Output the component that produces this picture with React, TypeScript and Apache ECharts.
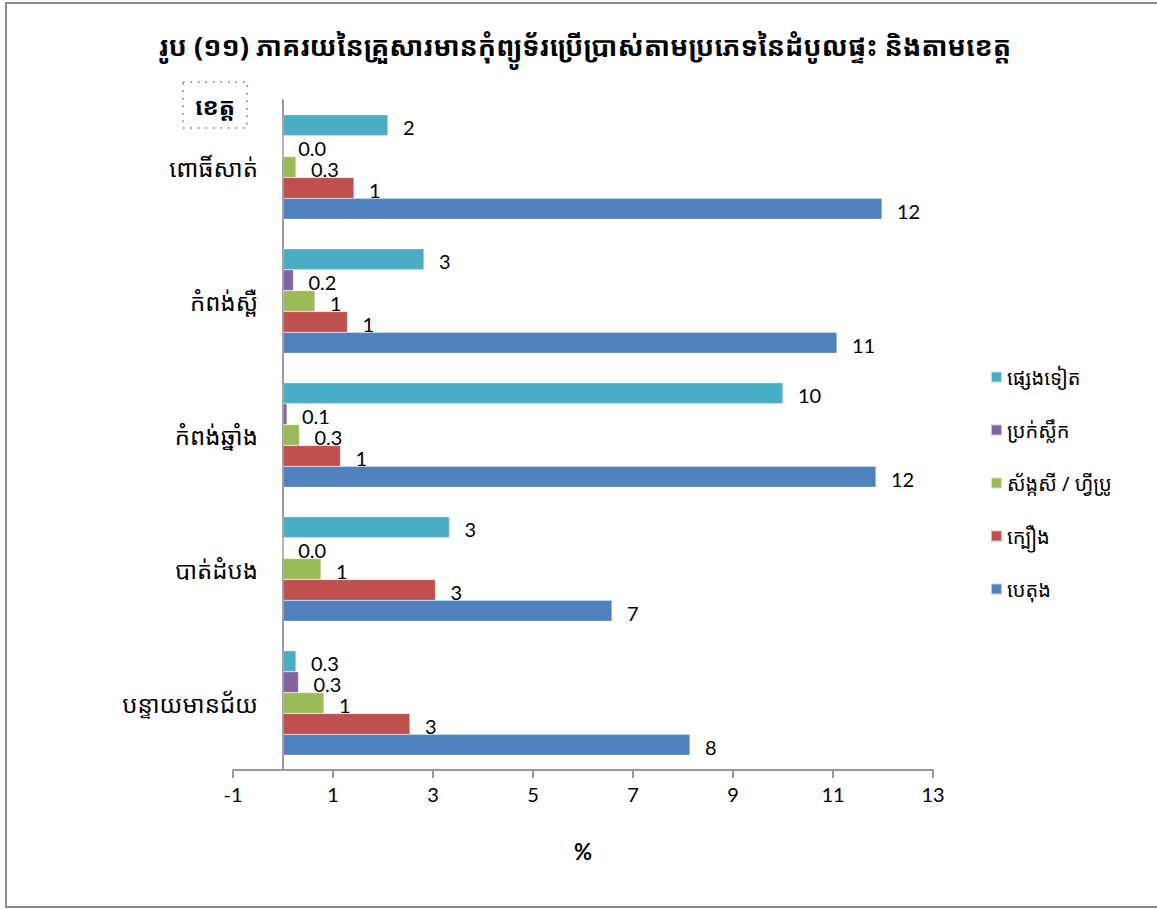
import React, { useEffect, useRef } from "react";
import * as echarts from "echarts";

const categories = ["បន្ទាយមានជ័យ", "បាត់ដំបង", "កំពង់ឆ្នាំង", "កំពង់ស្ពឺ", "ពោធិ៍សាត់"];
const seriesNames = ["ផ្សេងទៀត", "ប្រក់ស្លឹក", "ស័ង្កសី / ហ្វីប្រូ", "ក្បឿង", "បេតុង"];
const otherVals = [0.26, 3.33, 10.0, 2.82, 2.1];
const thatchVals = [0.31, 0.0, 0.08, 0.21, 0.0];
const zincVals = [0.82, 0.76, 0.33, 0.64, 0.26];
const tileVals = [2.54, 3.05, 1.15, 1.29, 1.42];
const concreteVals = [8.14, 6.58, 11.86, 11.08, 11.98];
const colors = ["#4BACC6", "#8064A2", "#9BBB59", "#C0504D", "#4F81BD"];

const title = "រូប (១១) ភាគរយនៃគ្រួសារមានកុំព្យូទ័រប្រើប្រាស់តាមប្រភេទនៃដំបូលផ្ទះ និងតាមខេត្ត";
const yName = "ខេត្ត";
const FONT = "'Noto Sans Khmer', 'Khmer OS', 'Khmer OS System', 'Noto Sans', 'DejaVu Sans', sans-serif";
const NUMFONT = "Lato, 'Noto Sans', 'Liberation Sans', sans-serif";

export default function App() {
  const ref = useRef<HTMLDivElement>(null);
  useEffect(() => {
    document.body.style.margin = "0";
    const chart = echarts.init(ref.current!, null, { renderer: "svg" });
    const allVals = [otherVals, thatchVals, zincVals, tileVals, concreteVals];
    const fmt = (p: any) => {
      const v = p.value as number;
      return v < 0.5 ? v.toFixed(1) : String(Math.round(v));
    };
    chart.setOption({
      animation: false,
      title: {
        text: title,
        left: 580,
        textAlign: "center",
        top: 27,
        textStyle: { fontFamily: FONT, fontSize: 27, fontWeight: "bold", color: "#000" },
      },
      legend: {
        orient: "vertical",
        left: 985,
        top: 362,
        itemGap: 33,
        itemWidth: 11,
        itemHeight: 11,
        icon: "rect",
        data: seriesNames,
        textStyle: { fontFamily: FONT, fontSize: 20, color: "#000" },
      },
      grid: { left: 233, right: 1157 - 933, top: 100, bottom: 909 - 770, containLabel: false },
      xAxis: {
        type: "value",
        min: -1,
        max: 13,
        interval: 2,
        name: "%",
        nameLocation: "middle",
        nameGap: 70,
        nameTextStyle: { fontFamily: NUMFONT, fontSize: 22, fontWeight: "bold", color: "#000" },
        axisLine: { show: true, lineStyle: { color: "#999", width: 2 } },
        axisTick: { show: true, length: 8, lineStyle: { color: "#999", width: 2 } },
        axisLabel: { fontFamily: NUMFONT, fontSize: 20, color: "#000", margin: 14 },
        splitLine: { show: false },
      },
      yAxis: {
        type: "category",
        data: categories,
        offset: -50,
        axisLine: { show: true, onZero: false, lineStyle: { color: "#999", width: 2 } },
        axisTick: { show: false },
        axisLabel: { fontFamily: FONT, fontSize: 24, color: "#000", margin: 25 },
        splitLine: { show: false },
      },
      graphic: [
        {
          type: "rect",
          shape: { x: 6, y: 3, width: 1170, height: 904 },
          style: { fill: "none", stroke: "#8c8c8c", lineWidth: 2 },
          silent: true,
        },
        {
          type: "rect",
          shape: { x: 183, y: 82, width: 64, height: 46 },
          style: { fill: "none", stroke: "#4a7ebb", lineWidth: 1.5, lineDash: [1.5, 6] },
          silent: true,
        },
        {
          type: "text",
          x: 215,
          y: 105,
          style: {
            text: yName,
            fontFamily: FONT,
            fontSize: 24,
            fontWeight: "bold",
            fill: "#000",
            align: "center",
            verticalAlign: "middle",
          },
          silent: true,
        },
      ],
      series: seriesNames.map((name, i) => ({
        name,
        type: "bar",
        data: allVals[i],
        barGap: "0%",
        barCategoryGap: "22%",
        itemStyle: { color: colors[i], borderColor: "rgba(255,255,255,0.6)", borderWidth: 0.5 },
        label: {
          show: true,
          position: "right",
          distance: 15,
          formatter: fmt,
          fontFamily: NUMFONT,
          fontSize: 20,
          color: "#000",
          offset: [0, 2],
        },
      })),
    });
    return () => chart.dispose();
  }, []);
  return <div ref={ref} style={{ width: 1157, height: 909 }} />;
}
